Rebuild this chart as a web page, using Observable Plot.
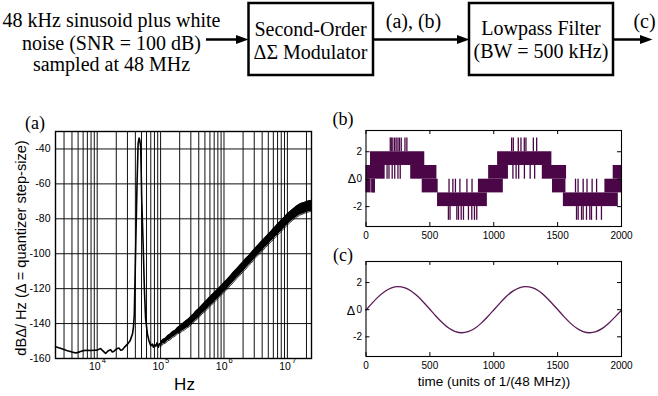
<!DOCTYPE html>
<html><head><meta charset="utf-8">
<script src="https://cdn.jsdelivr.net/npm/d3@7"></script>
<script src="https://cdn.jsdelivr.net/npm/@observablehq/plot@0.6"></script>
<style>
html,body{margin:0;padding:0;background:#fff;}
#page{position:relative;width:658px;height:396px;overflow:hidden;background:#fff;}
.chart{position:absolute;}
#overlay{position:absolute;left:0;top:0;pointer-events:none;}
.serif{font-family:"Liberation Serif","Times New Roman",Times,serif;}
.sans{font-family:"Liberation Sans",Arial,Helvetica,sans-serif;}
</style></head>
<body><div id="page">
<div id="pa" class="chart" style="left:0;top:110px;width:330px;height:270px"></div>
<div id="pb" class="chart" style="left:330px;top:110px;width:328px;height:140px"></div>
<div id="pc" class="chart" style="left:330px;top:245px;width:328px;height:135px"></div>
<svg id="overlay" width="658" height="396">
  <g class="serif" font-size="20" fill="#000" text-anchor="middle">
    <text x="111.5" y="27">48 kHz sinusoid plus white</text>
    <text x="111.5" y="49.5">noise (SNR = 100 dB)</text>
    <text x="111.5" y="71">sampled at 48 MHz</text>
    <text x="310.5" y="35.5">Second-Order</text>
    <text x="310.5" y="58.5">ΔΣ Modulator</text>
    <text x="413.5" y="27.5">(a), (b)</text>
    <text x="541" y="35">Lowpass Filter</text>
    <text x="541" y="57.5">(BW = 500 kHz)</text>
    <text x="644.5" y="28">(c)</text>
  </g>
  <g stroke="#000" stroke-width="2.5" fill="none">
    <rect x="248.5" y="3" width="124.5" height="72"/>
    <rect x="469" y="3" width="144" height="72"/>
    <line x1="206" y1="39.5" x2="238" y2="39.5"/>
    <line x1="373" y1="39.5" x2="459" y2="39.5"/>
    <line x1="613" y1="39.5" x2="642" y2="39.5"/>
  </g>
  <g fill="#000">
    <polygon points="236,35 248.5,39.5 236,44"/>
    <polygon points="457,35 469.5,39.5 457,44"/>
    <polygon points="640,35 652.5,39.5 640,44"/>
  </g>
  <g class="serif" font-size="18" fill="#000" text-anchor="middle">
    <text x="35" y="128.5">(a)</text>
    <text x="343" y="125">(b)</text>
    <text x="343" y="261">(c)</text>
  </g>
  <g class="sans" fill="#000" text-anchor="middle">
    <text transform="translate(25.5,248) rotate(-90)" font-size="14.6">dBΔ/ Hz (Δ = quantizer step-size)</text>
    <text x="184.5" y="389.5" font-size="17">Hz</text>
    <text x="494" y="386" font-size="13.5">time (units of 1/(48 MHz))</text>
    <text x="352" y="183" font-size="12.5">Δ</text>
    <text x="351" y="315" font-size="12.5">Δ</text>
  </g>
</svg>
</div>
<script>
const FONT = '"Liberation Sans", Arial, Helvetica, sans-serif';
const PURPLE = "#4a0646";

// ---------- (a) spectrum ----------
const gridFreqs = [3000,4000,5000,6000,7000,8000,9000,
  10000,20000,30000,40000,50000,60000,70000,80000,90000,
  100000,200000,300000,400000,500000,600000,700000,800000,900000,
  1000000,2000000,3000000,4000000,5000000,6000000,7000000,8000000,9000000,
  10000000,20000000];
const gridDb = [-140,-120,-100,-80,-60,-40];
const yTicksA = [-160,-140,-120,-100,-80,-60,-40];
const decadeTicks = [1e4,1e5,1e6,1e7];
const decadeExps = ["4","5","6","7"];

const lowFreq = [2200,2700,3300,4000,4600,5300,6000,7000,8000,9000,10000,11300,12300,13600,15000,16300,17300,18400,20000,22000,23500,25000,27000,30000,33000,36000,37300,38500,40600,42500,44200,45800,47000,48600,50500,53000,55500,58000,62000,65700,70000,74000,77000,80000,84000,88000,92000,96000,100000];
const lowDb = [-153.3,-154.3,-155.4,-156.3,-156.9,-156.2,-155.5,-155.3,-155.4,-155.3,-155.2,-154.3,-155.6,-157.1,-155.5,-155,-156.3,-155.8,-154.6,-154,-155.3,-155,-153.5,-151.8,-149.9,-146,-142,-135,-94,-60,-37,-33.7,-35,-39,-70,-94,-120,-137,-146,-150,-152.7,-151.8,-153.5,-152,-153,-151,-153.5,-151.5,-152];

const bandFreq = [1e5,1.1e5,1.2e5,1.3e5,1.4e5,1.55e5,1.7e5,1.85e5,2e5,2.2e5,2.4e5,2.6e5,2.8e5,3e5,3.3e5,3.6e5,4e5,4.5e5,5e5,5.5e5,6e5,6.7e5,7.5e5,8.2e5,9e5,1e6,1.1e6,1.25e6,1.4e6,1.6e6,1.8e6,2e6,2.2e6,2.45e6,2.7e6,3e6,3.3e6,3.6e6,4e6,4.5e6,5e6,5.5e6,6e6,6.5e6,7e6,7.7e6,8.5e6,9.2e6,1e7,1.1e7,1.2e7,1.3e7,1.4e7,1.55e7,1.7e7,1.85e7,2e7,2.2e7,2.4e7];
const bandLoDb = [-153.3,-151.6,-151.2,-149.8,-149.4,-148.0,-147.1,-145.9,-145.5,-144.3,-143.6,-142.5,-141.9,-140.8,-139.5,-138.1,-136.6,-134.5,-133.1,-131.7,-130.1,-128.6,-126.8,-125.3,-123.9,-122.1,-120.7,-118.4,-116.5,-114.1,-112.2,-110.3,-108.8,-106.8,-105.3,-103.1,-101.6,-100.2,-98.5,-96.5,-94.8,-93.2,-91.9,-90.4,-89.4,-87.8,-86.3,-84.9,-83.6,-82.1,-81.0,-79.9,-79.1,-78.0,-77.4,-76.9,-76.4,-76.0,-75.6];
const bandHiDb = [-150.3,-149.0,-148.3,-146.8,-146.1,-144.6,-143.8,-142.2,-141.4,-140.1,-139.0,-138.0,-137.1,-135.8,-134.5,-132.8,-131.3,-129.4,-127.7,-126.1,-124.7,-122.9,-121.2,-119.7,-118.3,-116.5,-115.0,-112.7,-110.6,-108.4,-106.3,-104.6,-102.8,-101.1,-99.3,-97.4,-95.7,-94.3,-92.4,-90.6,-88.7,-87.2,-85.6,-84.3,-83.0,-81.4,-79.8,-78.5,-77.1,-75.8,-74.6,-73.6,-72.6,-71.6,-71.0,-70.6,-70.1,-69.7,-69.4];

// ---------- (b) modulator output ----------
const bandT0 = [0, 0, 35, 350, 440, 560, 880, 960, 1030, 1380, 1460, 1545, 1870, 1935];
const bandT1 = [40, 150, 460, 555, 565, 950, 1075, 1115, 1455, 1570, 1565, 1975, 2000, 2000];
const bandLo = [-1, 0, 1, 0, -1, -2, -1, 0, 1, 0, -1, -2, -1, 0];
const bandHi = [0, 1, 2, 1, 0, -1, 0, 1, 2, 1, 0, -1, 0, 1];
const spikesTo3 = [190,198,210,224,236,250,262,276,305,320,1140,1153,1192,1213,1239,1252,1310,1336];
const spikesToM3 = [645,658,711,724,745,763,802,828,849,867,1648,1661,1687,1700,1726,1752,1765,1804,1843];
const spikesDownTo0 = [165,180,205,225,250,268,1150,1175,1195,1240,1285,1320];
const spikesUpTo0 = [650,680,700,735,790,830,1640,1660,1700,1730,1770,1805];
const spikesToM1 = [45,52,60,65];

// ---------- (c) filtered output ----------
const sineT = [0,50,100,150,200,250,300,350,400,450,500,550,600,650,700,750,800,850,900,950,1000,1050,1100,1150,1200,1250,1300,1350,1400,1450,1500,1550,1600,1650,1700,1750,1800,1850,1900,1950,2000];
const sineV = [-0.03,0.50,0.98,1.36,1.61,1.70,1.63,1.40,1.02,0.55,0.03,-0.50,-0.98,-1.37,-1.61,-1.70,-1.62,-1.39,-1.01,-0.54,-0.02,0.50,0.99,1.37,1.61,1.70,1.62,1.39,1.01,0.53,0.01,-0.51,-0.99,-1.37,-1.61,-1.70,-1.62,-1.38,-1.00,-0.53,-0.04];

const xTicksBC = [0,500,1000,1500,2000];
const yTicksBC = [-2,0,2];
const yDomBC = [-3.45, 3.55];

// ----- build (a)
const lowRows = lowFreq.map((f,i)=>({f, db: lowDb[i]}));
const bandRows = bandFreq.map((f,i)=>({f, lo: bandLoDb[i], hi: bandHiDb[i]}));
const decRows = decadeTicks.map((f,i)=>({f, e: decadeExps[i]}));

const chartA = Plot.plot({
  width: 330, height: 270,
  marginLeft: 55, marginRight: 19, marginTop: 21, marginBottom: 22,
  x: {type: "log", domain: [2200, 2.4e7], axis: null, label: null},
  y: {domain: [-160, -30], label: null},
  style: {fontFamily: FONT, fontSize: "10.5px", background: "transparent", color: "#000", overflow: "visible"},
  marks: [
    Plot.ruleX(gridFreqs, {x: d => d, stroke: "#111", strokeWidth: 1}),
    Plot.ruleY(gridDb, {y: d => d, stroke: "#111", strokeWidth: 1}),
    Plot.line(lowRows, {x: "f", y: "db", stroke: "#000", strokeWidth: 1.6}),
    Plot.areaY(bandRows, {x: "f", y1: "lo", y2: "hi", fill: "#000"}),
    Plot.line(bandRows, {x: "f", y: "lo", stroke: "#000", strokeWidth: 0.8}),
    Plot.line(bandRows, {x: "f", y: "hi", stroke: "#000", strokeWidth: 0.8}),
    Plot.frame({stroke: "#000", strokeWidth: 1.4}),
    Plot.axisY({ticks: yTicksA, tickSize: 0, tickPadding: 5, tickFormat: d => String(d), label: null, fontSize: 10.5}),
    Plot.text(decRows, {x: "f", frameAnchor: "bottom", text: () => "10", textAnchor: "end", dx: 3.5, dy: 11, fontSize: 10.5}),
    Plot.text(decRows, {x: "f", frameAnchor: "bottom", text: "e", textAnchor: "start", dx: 4.5, dy: 4.5, fontSize: 7.5})
  ]
});
document.getElementById("pa").appendChild(chartA);

// ----- build (b)
const bRects = bandT0.map((t0,i)=>({t0, t1: bandT1[i], lo: bandLo[i], hi: bandHi[i]}));
const spikeRows = [
  ...spikesTo3.map(t => ({t, lo: 2, hi: 3})),
  ...spikesToM3.map(t => ({t, lo: -3, hi: -2})),
  ...spikesDownTo0.map(t => ({t, lo: 0, hi: 1})),
  ...spikesUpTo0.map(t => ({t, lo: -1, hi: 0})),
  ...spikesToM1.map(t => ({t, lo: -1, hi: 0}))
];

function innerTicks() {
  const tl = (yDomBC[1]-yDomBC[0]) * 4/96;
  const xl = 2000 * 4/256;
  return [
    Plot.ruleX(xTicksBC, {x: d => d, y1: yDomBC[1], y2: yDomBC[1]-tl, stroke: "#000", strokeWidth: 1}),
    Plot.ruleX(xTicksBC, {x: d => d, y1: yDomBC[0], y2: yDomBC[0]+tl, stroke: "#000", strokeWidth: 1}),
    Plot.ruleY(yTicksBC, {y: d => d, x1: 0, x2: xl, stroke: "#000", strokeWidth: 1}),
    Plot.ruleY(yTicksBC, {y: d => d, x1: 2000, x2: 2000-xl, stroke: "#000", strokeWidth: 1})
  ];
}
function axesBC() {
  return [
    Plot.frame({stroke: "#000", strokeWidth: 1.1}),
    Plot.axisX({ticks: xTicksBC, tickSize: 0, tickPadding: 5, tickFormat: d => String(d), label: null, fontSize: 10}),
    Plot.axisY({ticks: yTicksBC, tickSize: 0, tickPadding: 4, tickFormat: d => String(d), label: null, fontSize: 10})
  ];
}

const chartB = Plot.plot({
  width: 328, height: 140,
  marginLeft: 35.5, marginRight: 37, marginTop: 20, marginBottom: 24,
  x: {domain: [0, 2000], label: null},
  y: {domain: yDomBC, label: null},
  style: {fontFamily: FONT, fontSize: "10px", background: "transparent", color: "#000", overflow: "visible"},
  marks: [
    Plot.rect(bRects, {x1: "t0", x2: "t1", y1: "lo", y2: "hi", fill: PURPLE}),
    Plot.ruleX(spikeRows, {x: "t", y1: "lo", y2: "hi", stroke: PURPLE, strokeWidth: 1.3}),
    ...innerTicks(),
    ...axesBC()
  ]
});
document.getElementById("pb").appendChild(chartB);

// ----- build (c)
const sineRows = sineT.map((t,i)=>({t, v: sineV[i]}));
const chartC = Plot.plot({
  width: 328, height: 135,
  marginLeft: 35.5, marginRight: 37, marginTop: 16, marginBottom: 24,
  x: {domain: [0, 2000], label: null},
  y: {domain: yDomBC, label: null},
  style: {fontFamily: FONT, fontSize: "10px", background: "transparent", color: "#000", overflow: "visible"},
  marks: [
    Plot.line(sineRows, {x: "t", y: "v", stroke: "#5a1a58", strokeWidth: 1.3, curve: "natural"}),
    ...innerTicks(),
    ...axesBC()
  ]
});
document.getElementById("pc").appendChild(chartC);
</script>
</body></html>
